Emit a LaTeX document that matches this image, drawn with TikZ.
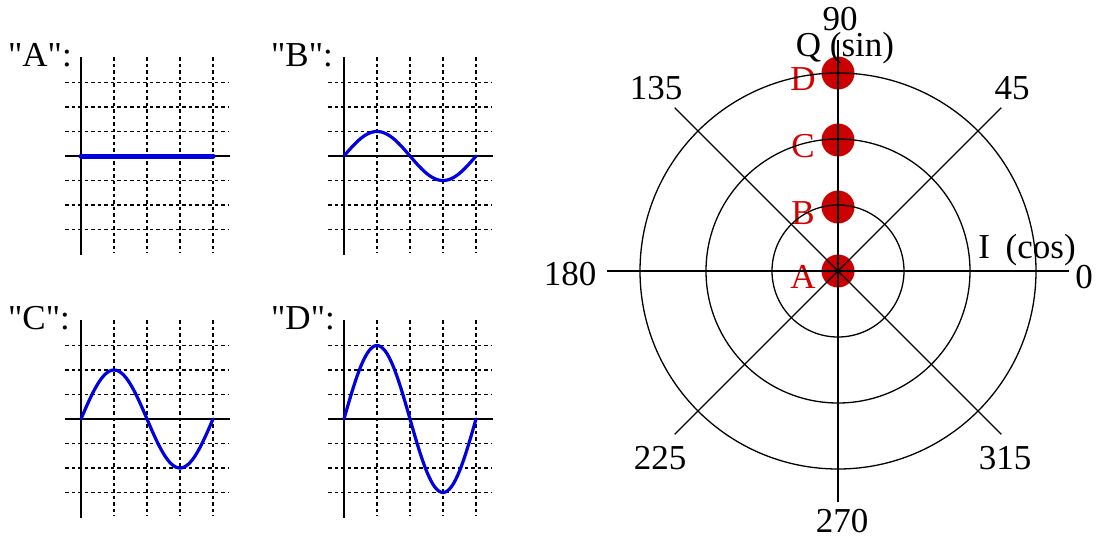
\documentclass[tikz,border=0pt]{standalone}
\usepackage{fontspec}
\setmainfont{Liberation Serif}
\definecolor{wavecol}{RGB}{0,0,225}
\definecolor{dotcol}{RGB}{204,0,0}
\definecolor{lettercol}{RGB}{215,0,0}

\begin{document}
\begin{tikzpicture}[x=1pt,y=-1pt,font=\fontsize{35}{40}\selectfont,inner sep=0pt,
  gridline/.style={line width=1.8pt,dash pattern=on 3.5pt off 3pt},
  axisline/.style={line width=1.8pt},
  wave/.style={wavecol,line cap=round},
  ring/.style={line width=1.3pt},
  spoke/.style={line width=1.2pt},
  mainaxis/.style={line width=1.8pt},
  phasedot/.style={fill=dotcol},
  dotlabel/.style={text=lettercol}]
\useasboundingbox (0,0) rectangle (1099,542);

% four time-domain panels
\foreach \amp/\lbl/\ox/\oy in {0/A/0/0,1/B/263/0,2/C/0/263,3/D/263/263} {
  \begin{scope}[shift={(\ox,\oy)}]
    \node[anchor=base west] (panel\lbl) at (8,66) {\textquotedbl\lbl\textquotedbl:};
    \foreach \gx in {1,...,4}
      \draw[gridline] ({81+33*\gx},57) -- ({81+33*\gx},253);
    \foreach \gy in {-3,-2,-1,1,2,3}
      \draw[gridline] (65,{156+24.5*\gy}) -- (228,{156+24.5*\gy});
    \draw[axisline] (81,57) -- (81,255);
    \draw[axisline] (65,156) -- (230,156);
    \pgfmathsetmacro\wavew{\amp==0 ? 5 : 3.2}
    \draw[wave,line width=\wavew pt] plot[domain=0:132,samples=80,variable=\t]
      ({81+\t},{156-24.5*\amp*sin(\t/132*360)});
  \end{scope}
}

% I/Q constellation
\begin{scope}[shift={(838,271)},yscale=-1]
  \foreach \lbl/\r in {A/0,B/64,C/131,D/198} {
    \fill[phasedot] (0,\r) circle[radius=16.5];
    \node[dotlabel] (pt\lbl) at (-35,{\r-6}) {\lbl};
  }
  \foreach \r in {66,132,198}
    \draw[ring] (0,0) circle[radius=\r];
  \foreach \ang in {45,135,225,315}
    \draw[spoke] (0,0) -- (\ang:231);
  \draw[mainaxis] (-231,0) -- (231,0);
  \draw[mainaxis] (0,-231) -- (0,231);

  \node (deg90) at (2,252) {90};
  \node (qlabel) at (7,223) {Q (sin)};
  \node (deg135) at (-182,183) {135};
  \node (deg45) at (174,183) {45};
  \node (deg180) at (-268,-3) {180};
  \node (deg0) at (246,-6) {0};
  \node (ilabel) at (189,21) {I\hspace{0.2em} (cos)};
  \node (deg225) at (-178,-187) {225};
  \node (deg315) at (167,-187) {315};
  \node (deg270) at (4,-250) {270};
\end{scope}
\end{tikzpicture}
\end{document}
